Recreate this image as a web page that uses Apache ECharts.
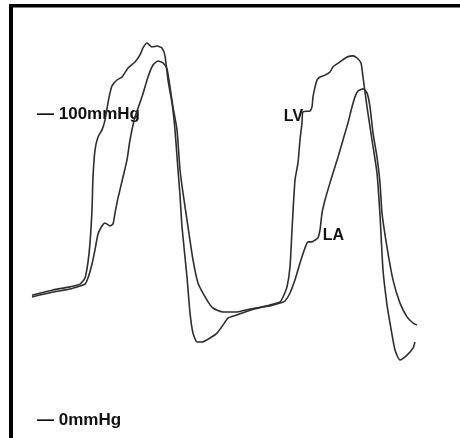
<!DOCTYPE html>
<html>
<head>
<meta charset="utf-8">
<script src="https://cdn.jsdelivr.net/npm/echarts@6/dist/echarts.min.js"></script>
<style>
html,body{margin:0;padding:0;background:#fff;}
#chart{width:460px;height:438px;}
</style>
</head>
<body>
<div id="chart"></div>
<script>
// time axis (arbitrary units), pressure in mmHg
const lvTime = [32,53,70,80,85,88,90,92,93,95,98,102,105,108,110,112,117,122,128,135,140,143,147,152,157,162,165,168,172,175,178,180,182,187,190,193,197,202,210,217,223,228,237,250,270,280,283,287,290,292,295,298,300,302,303,310,312,313,315,317,320,325,330,333,340,347,353,357,361,363,367,372,377,380,383,387,390,395,400,407,413,415];
const lvPressure = [40.8,42.5,43.5,44.4,46.4,51.6,57.8,68.6,79.4,88.2,92.5,94.8,98.0,103.6,106.9,109.2,111.1,112.1,115.0,117.0,119.3,121.6,123.2,121.9,122.2,121.6,119.0,111.1,103.6,94.8,81.7,73.5,63.1,46.7,35.0,28.4,25.5,25.5,26.8,28.4,31.0,33.3,34.3,35.9,37.6,38.6,40.2,43.5,50.0,62.1,78.4,84.0,91.5,97.1,100.7,101.0,102.3,105.6,108.8,111.1,112.1,112.7,113.7,115.4,117.0,118.6,119.0,118.3,116.7,112.1,102.3,91.5,80.7,67.0,49.0,37.6,31.7,22.9,19.6,21.2,23.5,25.5];
const laTime = [32,53,70,80,85,88,92,95,98,102,105,110,113,115,118,123,127,130,135,142,148,153,158,163,167,170,173,177,180,183,188,193,198,207,213,223,237,250,270,280,285,290,295,300,305,308,312,315,318,320,322,325,330,333,338,343,348,352,355,358,363,367,370,373,377,380,382,387,393,400,407,413,417];
const laPressure = [40.2,41.8,42.8,43.8,44.4,46.4,51.0,55.6,60.8,63.4,64.4,63.4,64.1,67.6,72.5,79.4,85.0,91.5,99.0,105.6,112.1,116.0,117.3,116.7,114.7,108.8,102.3,94.8,81.7,74.2,63.1,52.3,44.8,39.2,36.6,35.3,35.3,36.3,37.3,38.2,38.9,41.5,45.8,51.3,56.2,58.2,58.2,58.8,59.5,62.1,67.6,71.9,77.5,80.7,85.9,91.5,97.1,102.3,105.6,107.5,108.2,106.9,102.3,93.8,85.9,77.5,67.6,56.5,45.8,38.2,33.7,31.7,31.0];
const scaleTicks = [0, 100];
const seriesNames = ['LV', 'LA'];
const labelSpots = [[293.5, 99.3], [333.5, 60.1]];

const zip = (a, b) => a.map((v, i) => [v, b[i]]);

const chart = echarts.init(document.getElementById('chart'), null, {renderer: 'canvas'});
const lineStyle = {color: '#2e2e2e', width: 1.6};
const fontFamily = '"Liberation Sans", Arial, sans-serif';
function tag(name, coord) {
  return {
    silent: true,
    symbol: 'rect',
    symbolSize: [1, 1],
    itemStyle: {color: 'rgba(0,0,0,0)'},
    label: {show: true, position: 'inside', color: '#111', fontSize: 16, fontWeight: 'bold', fontFamily: fontFamily, formatter: name},
    data: [{coord: coord}]
  };
}
chart.setOption({
  animation: false,
  backgroundColor: '#fff',
  grid: {left: 0, right: 0, top: 0, bottom: 0},
  xAxis: {type: 'value', min: 0, max: 460, show: false},
  yAxis: {
    type: 'value', min: -5.88, max: 137.25,
    axisLine: {show: false}, axisTick: {show: false}, splitLine: {show: false},
    axisLabel: {
      show: true, inside: true, margin: 37, customValues: scaleTicks,
      formatter: v => '\u2014 ' + v + 'mmHg',
      color: '#111', fontSize: 17, fontWeight: 'bold', fontFamily: fontFamily
    }
  },
  graphic: [
    {type: 'rect', shape: {x: 9, y: 4, width: 451, height: 3.5}, style: {fill: '#000'}},
    {type: 'rect', shape: {x: 9, y: 4, width: 4, height: 434}, style: {fill: '#000'}}
  ],
  series: [
    {name: seriesNames[0], type: 'line', showSymbol: false, smooth: 0.2, lineStyle: lineStyle,
     data: zip(lvTime, lvPressure), markPoint: tag(seriesNames[0], labelSpots[0])},
    {name: seriesNames[1], type: 'line', showSymbol: false, smooth: 0.2, lineStyle: lineStyle,
     data: zip(laTime, laPressure), markPoint: tag(seriesNames[1], labelSpots[1])}
  ]
});
</script>
</body>
</html>
